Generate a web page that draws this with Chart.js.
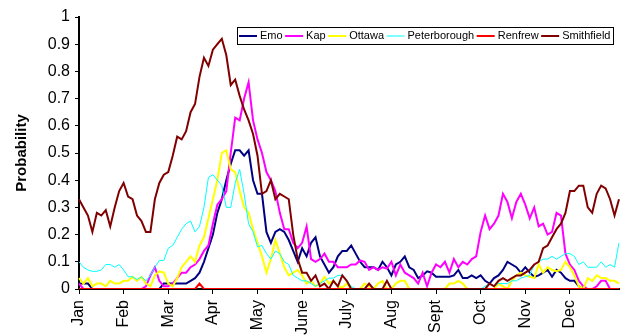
<!DOCTYPE html>
<html>
<head>
<meta charset="utf-8">
<style>
  html, body { margin: 0; padding: 0; background: #fff; }
  #chart { display: block; }
</style>
<script src="https://cdn.jsdelivr.net/npm/chart.js@4/dist/chart.umd.min.js"></script>
</head>
<body>
<canvas id="chart" width="626" height="335"></canvas>
<script>
// one point every 3 days, a month tick every 10 points
const days = Array.from({ length: 122 }, (_, i) => i * 3 + 1)
const monthTicks = ['Jan', 'Feb', 'Mar', 'Apr', 'May', 'June', 'July', 'Aug', 'Sept', 'Oct', 'Nov', 'Dec']

const emo = [
  0.02, 0.02, 0.02, 0, 0, 0, 0, 0, 0, 0,
  0, 0, 0, 0, 0, 0, 0, 0, 0, 0.02,
  0.02, 0.02, 0.02, 0.02, 0.02, 0.03, 0.04, 0.06, 0.10, 0.15,
  0.20, 0.28, 0.33, 0.40, 0.46, 0.51, 0.51, 0.49, 0.51, 0.40,
  0.35, 0.35, 0.21, 0.17, 0.21, 0.22, 0.21, 0.18, 0.14, 0.10,
  0.15, 0.12, 0.17, 0.19, 0.12, 0.09, 0.06, 0.08, 0.12, 0.14,
  0.14, 0.16, 0.13, 0.10, 0.08, 0.08, 0.08, 0.07, 0.10, 0.08,
  0.05, 0.09, 0.10, 0.12, 0.08, 0.07, 0.04, 0.05, 0.065, 0.06,
  0.045, 0.045, 0.045, 0.045, 0.05, 0.07, 0.04, 0.04, 0.05, 0.04,
  0.05, 0.03, 0.02, 0.04, 0.05, 0.07, 0.10, 0.09, 0.08, 0.06,
  0.08, 0.06, 0.045, 0.05, 0.06, 0.07, 0.045, 0.07, 0.06, 0.04,
  0.03, 0.03, 0.01, 0, 0, 0, 0, 0, 0, 0,
  0, 0
]
const kap = [
  0.02, 0, 0, 0, 0, 0, 0, 0, 0, 0,
  0, 0, 0, 0, 0, 0.01, 0.05, 0.08, 0.03, 0.01,
  0.01, 0.02, 0.04, 0.06, 0.06, 0.08, 0.09, 0.11, 0.14, 0.16,
  0.24, 0.31, 0.33, 0.36, 0.50, 0.63, 0.62, 0.70, 0.76, 0.62,
  0.55, 0.50, 0.43, 0.40, 0.36, 0.28, 0.22, 0.22, 0.17, 0.15,
  0.17, 0.23, 0.11, 0.10, 0.11, 0.13, 0.10, 0.10, 0.08, 0.08,
  0.08, 0.09, 0.09, 0.105, 0.10, 0.07, 0.08, 0.07, 0.08, 0.075,
  0.10, 0.05, 0.09, 0.06, 0.05, 0.04, 0.02, 0.06, 0.01, 0.06,
  0.09, 0.08, 0.10, 0.06, 0.11, 0.08, 0.10, 0.09, 0.11, 0.12,
  0.21, 0.27, 0.22, 0.24, 0.27, 0.35, 0.32, 0.26, 0.32, 0.35,
  0.31, 0.26, 0.30, 0.23, 0.24, 0.20, 0.21, 0.28, 0.27, 0.13,
  0.09, 0.07, 0.03, 0.01, 0, 0, 0.01, 0.03, 0.03, 0,
  0, 0
]
const ottawa = [
  0.04, 0.02, 0.04, 0.01, 0.02, 0.02, 0.01, 0.03, 0.02, 0.02,
  0.03, 0.03, 0.045, 0.03, 0.045, 0.02, 0.01, 0.05, 0.065, 0.06,
  0.02, 0.01, 0.04, 0.08, 0.10, 0.12, 0.10, 0.16, 0.19, 0.26,
  0.33, 0.40, 0.50, 0.51, 0.44, 0.43, 0.36, 0.30, 0.28, 0.22,
  0.17, 0.12, 0.06, 0.11, 0.18, 0.13, 0.08, 0.05, 0.06, 0.07,
  0.05, 0.02, 0.03, 0.01, 0.02, 0.045, 0.02, 0.03, 0.01, 0.005,
  0.02, 0, 0, 0, 0.02, 0.01, 0, 0.02, 0.03, 0,
  0, 0.02, 0.03, 0.03, 0, 0, 0, 0, 0, 0,
  0, 0, 0, 0.02, 0.02, 0.03, 0.02, 0, 0, 0,
  0, 0, 0, 0, 0.02, 0.01, 0, 0.03, 0.05, 0.06,
  0.05, 0.045, 0.04, 0.09, 0.06, 0.08, 0.07, 0.065, 0.07, 0.10,
  0.08, 0.05, 0.01, 0, 0.04, 0.03, 0.05, 0.04, 0.04, 0.03,
  0.03, 0.02
]
const peterborough = [
  0.10, 0.08, 0.07, 0.065, 0.065, 0.07, 0.09, 0.09, 0.08, 0.09,
  0.07, 0.045, 0.045, 0.035, 0.045, 0.03, 0.05, 0.08, 0.105, 0.105,
  0.15, 0.16, 0.19, 0.22, 0.24, 0.25, 0.21, 0.23, 0.30, 0.41,
  0.42, 0.40, 0.38, 0.30, 0.30, 0.39, 0.44, 0.35, 0.24, 0.21,
  0.155, 0.16, 0.13, 0.11, 0.14, 0.13, 0.10, 0.09, 0.05, 0.04,
  0.03, 0.03, 0.02, 0.01, 0.02, 0.03, 0.04, 0.04, 0.05, 0.05,
  0.03, 0.01, 0, 0, 0, 0, 0, 0, 0, 0,
  0, 0, 0, 0, 0, 0, 0, 0, 0, 0,
  0, 0, 0, 0, 0, 0, 0, 0, 0, 0,
  0, 0.01, 0.02, 0.01, 0.02, 0.02, 0.02, 0.03, 0.03, 0.04,
  0.045, 0.05, 0.09, 0.10, 0.11, 0.11, 0.12, 0.11, 0.12, 0.13,
  0.13, 0.12, 0.09, 0.10, 0.08, 0.08, 0.08, 0.10, 0.08, 0.09,
  0.08, 0.17
]
const renfrew = [
  0, 0, 0, 0, 0, 0, 0, 0, 0, 0,
  0, 0, 0, 0, 0, 0, 0, 0, 0, 0,
  0, 0, 0, 0, 0, 0, 0, 0.02, 0, 0,
  0, 0, 0, 0, 0, 0, 0, 0, 0, 0,
  0, 0, 0, 0, 0, 0, 0, 0, 0, 0,
  0, 0, 0, 0, 0, 0, 0, 0, 0, 0,
  0, 0, 0, 0, 0, 0, 0, 0, 0, 0,
  0, 0, 0, 0, 0, 0, 0, 0, 0, 0,
  0, 0, 0, 0, 0, 0, 0, 0, 0, 0,
  0, 0, 0, 0, 0, 0, 0, 0, 0, 0,
  0, 0, 0, 0, 0, 0, 0, 0, 0, 0,
  0, 0, 0, 0, 0, 0, 0, 0, 0, 0,
  0, 0
]
const smithfield = [
  0.33, 0.30, 0.27, 0.21, 0.28, 0.27, 0.29, 0.23, 0.30, 0.36,
  0.39, 0.34, 0.33, 0.27, 0.25, 0.21, 0.21, 0.33, 0.39, 0.42,
  0.43, 0.49, 0.56, 0.55, 0.58, 0.65, 0.68, 0.78, 0.85, 0.82,
  0.88, 0.90, 0.92, 0.86, 0.75, 0.77, 0.71, 0.66, 0.62, 0.57,
  0.49, 0.35, 0.36, 0.40, 0.33, 0.35, 0.34, 0.33, 0.20, 0.11,
  0.06, 0.06, 0.03, 0.05, 0.01, 0.02, 0, 0.03, 0.01, 0.05,
  0.03, 0, 0, 0, 0, 0.02, 0, 0, 0, 0.03,
  0, 0, 0, 0, 0, 0, 0, 0, 0, 0,
  0, 0, 0, 0, 0, 0, 0, 0, 0, 0,
  0, 0, 0.02, 0.01, 0.03, 0.04, 0.03, 0.04, 0.05, 0.05,
  0.06, 0.07, 0.09, 0.10, 0.15, 0.16, 0.19, 0.22, 0.24, 0.28,
  0.36, 0.36, 0.38, 0.38, 0.30, 0.28, 0.35, 0.38, 0.37, 0.33,
  0.27, 0.33
]

const FONT = '"Liberation Sans", Arial, sans-serif'

function series(label, data, color, width, order) {
  return {
    label, data,
    borderColor: color,
    backgroundColor: color,
    borderWidth: width,
    pointRadius: 0,
    tension: 0,
    fill: false,
    order
  }
}

// only the month positions get a tick mark
const isMonthTick = i => i % 10 === 0 && i / 10 < monthTicks.length

// legend in a box inside the plot, like the original
const boxLegend = {
  id: 'boxLegend',
  afterDraw(chart) {
    const ctx = chart.ctx
    ctx.save()
    ctx.font = '11px ' + FONT
    ctx.textBaseline = 'middle'
    const top = 27, h = 17, midY = top + h / 2 + 0.5
    let x = 239
    chart.data.datasets.forEach(ds => {
      ctx.strokeStyle = ds.borderColor
      ctx.lineWidth = ds.borderWidth
      ctx.beginPath()
      ctx.moveTo(x, midY)
      ctx.lineTo(x + 18, midY)
      ctx.stroke()
      ctx.fillStyle = '#000'
      ctx.fillText(ds.label, x + 21, midY)
      x += 21 + ctx.measureText(ds.label).width + 2.5
    })
    ctx.strokeStyle = '#000'
    ctx.lineWidth = 1
    ctx.strokeRect(237.5, top + 0.5, Math.round(x - 237), h)
    ctx.restore()
  }
}

new Chart(document.getElementById('chart'), {
  type: 'line',
  data: {
    labels: days,
    datasets: [
      series('Emo', emo, '#000080', 2, 5),
      series('Kap', kap, '#FF00FF', 2, 4),
      series('Ottawa', ottawa, '#FFFF00', 2, 3),
      series('Peterborough', peterborough, '#00FFFF', 1, 2),
      series('Renfrew', renfrew, '#FF0000', 2, 1),
      series('Smithfield', smithfield, '#800000', 2, 0)
    ]
  },
  options: {
    responsive: false,
    devicePixelRatio: 1,
    animation: false,
    layout: { padding: { top: 17, right: 7, left: 0, bottom: 0 } },
    plugins: {
      legend: { display: false },
      tooltip: { enabled: false }
    },
    scales: {
      x: {
        offset: false,
        afterFit: s => {
          s.height = 46
          s.paddingLeft = 0
          s.paddingRight = 0
        },
        border: { color: '#000', width: 2 },
        grid: {
          drawOnChartArea: false,
          drawTicks: true,
          tickLength: 5,
          color: c => isMonthTick(c.index) ? '#000' : 'rgba(0,0,0,0)',
          tickColor: c => isMonthTick(c.index) ? '#000' : 'rgba(0,0,0,0)'
        },
        ticks: {
          autoSkip: false,
          minRotation: 90,
          maxRotation: 90,
          padding: 6,
          color: '#000',
          font: { family: FONT, size: 16 },
          callback: (v, i) => isMonthTick(i) ? monthTicks[i / 10] : ''
        }
      },
      y: {
        min: 0,
        max: 1,
        afterFit: s => { s.width = 79 },
        border: { color: '#000', width: 2 },
        grid: {
          drawOnChartArea: false,
          drawTicks: true,
          tickLength: 4,
          color: '#000'
        },
        ticks: {
          stepSize: 0.1,
          padding: 5,
          color: '#000',
          font: { family: FONT, size: 16 },
          callback: v => String(Math.round(v * 10) / 10)
        },
        title: {
          display: true,
          text: 'Probability',
          color: '#000',
          padding: { top: 13, bottom: 0 },
          font: { family: FONT, size: 15, weight: 'bold' }
        }
      }
    }
  },
  plugins: [boxLegend]
})
</script>
</body>
</html>
